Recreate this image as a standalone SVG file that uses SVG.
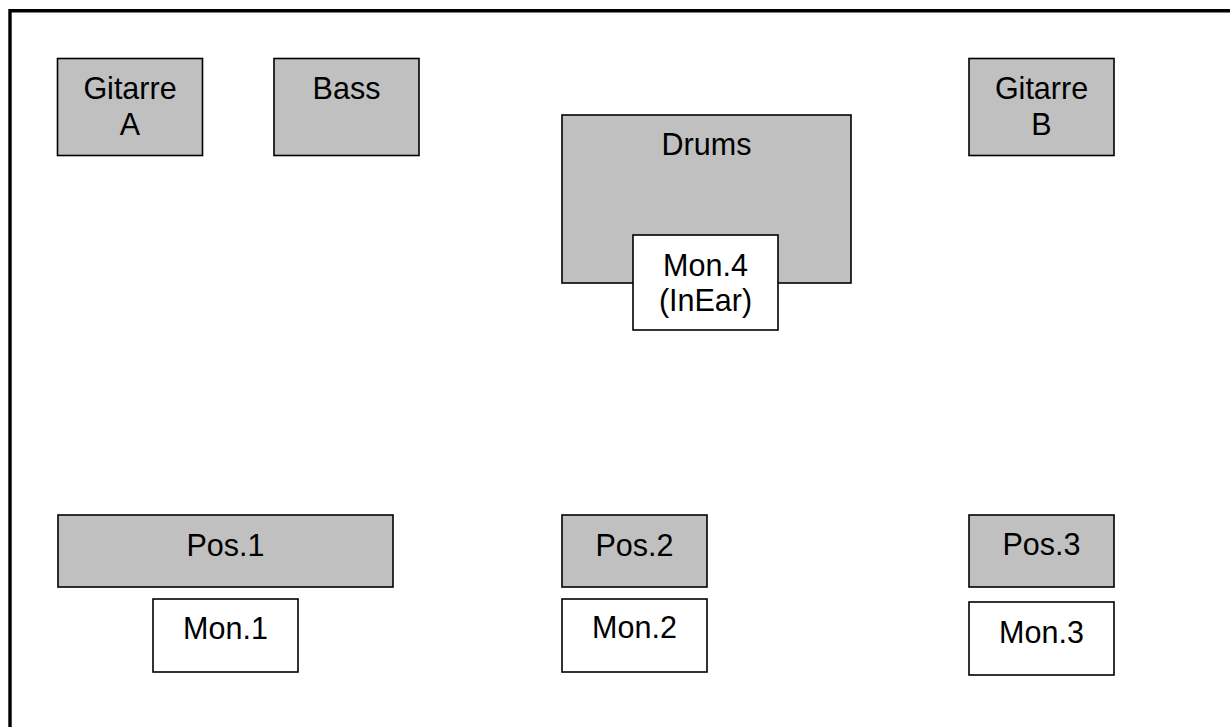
<svg xmlns="http://www.w3.org/2000/svg" width="1230" height="727" viewBox="0 0 1230 727">
<style>
.g{fill:#c0c0c0;stroke:#000;stroke-width:1.6}
.w{fill:#fff;stroke:#000;stroke-width:1.6}
text{font-family:"Liberation Sans",Arial,sans-serif;font-size:30.5px;fill:#000;text-anchor:middle}
</style>
<rect x="0" y="0" width="1230" height="727" fill="#fff"/>
<g id="frame"><path d="M10,740 V10.7 H1240" fill="none" stroke="#000" stroke-width="3.4"/></g>
<g id="gitarre-a"><rect class="g" x="57.5" y="58.5" width="145" height="97"/><text x="130" y="99">Gitarre</text><text x="130" y="135">A</text></g>
<g id="bass"><rect class="g" x="274" y="58.5" width="145" height="97"/><text x="346.5" y="99">Bass</text></g>
<g id="drums"><rect class="g" x="562" y="115" width="289" height="168"/><text x="706.5" y="155">Drums</text></g>
<g id="mon4"><rect class="w" x="633" y="235" width="145" height="95"/><text x="705.5" y="276">Mon.4</text><text x="705.5" y="311">(InEar)</text></g>
<g id="gitarre-b"><rect class="g" x="969" y="58.5" width="145" height="97"/><text x="1041.5" y="99">Gitarre</text><text x="1041.5" y="135">B</text></g>
<g id="pos1"><rect class="g" x="58" y="515" width="335" height="72"/><text x="225.5" y="556">Pos.1</text></g>
<g id="mon1"><rect class="w" x="153" y="599" width="145" height="73"/><text x="225.5" y="639">Mon.1</text></g>
<g id="pos2"><rect class="g" x="562" y="515" width="145" height="72"/><text x="634.5" y="556">Pos.2</text></g>
<g id="mon2"><rect class="w" x="562" y="599" width="145" height="73"/><text x="634.5" y="638">Mon.2</text></g>
<g id="pos3"><rect class="g" x="969" y="515" width="145" height="72"/><text x="1041.5" y="555">Pos.3</text></g>
<g id="mon3"><rect class="w" x="969" y="602" width="145" height="73"/><text x="1041.5" y="643">Mon.3</text></g>
<g id="connectors"></g>
</svg>
